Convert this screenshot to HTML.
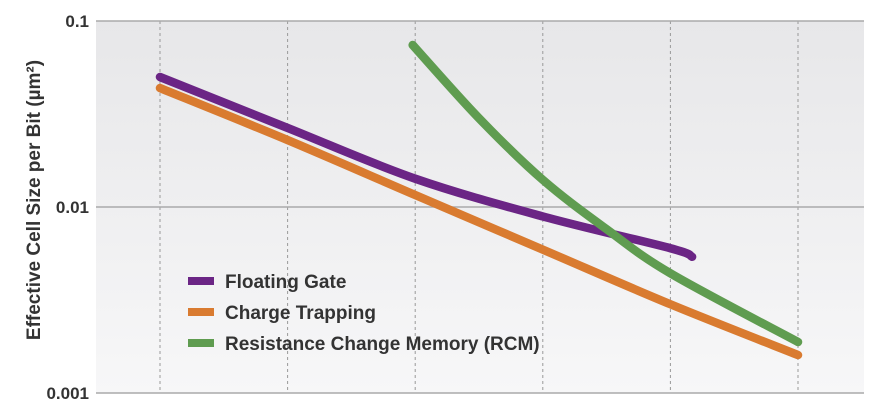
<!DOCTYPE html>
<html><head><meta charset="utf-8"><style>
html,body{margin:0;padding:0;background:#fff;}
svg text{font-family:"Liberation Sans",Arial,sans-serif;font-weight:bold;fill:#333;}
</style></head><body>
<svg id="chart" width="879" height="400" viewBox="0 0 879 400" xmlns="http://www.w3.org/2000/svg">
<defs><linearGradient id="bg" x1="0" y1="0" x2="0" y2="1"><stop offset="0" stop-color="#e7e7e9"/><stop offset="1" stop-color="#f7f7f8"/></linearGradient></defs>
<rect x="96" y="21" width="768" height="372" fill="url(#bg)"/>
<g id="grid"></g>
<g id="series"></g>
<text transform="translate(40,200) rotate(-90)" text-anchor="middle" font-size="19">Effective Cell Size per Bit (µm²)</text>
<g id="legend"></g>
</svg>
<script>
const xCats=[0,1,2,3,4,5];
const yTicks=[0.1,0.01,0.001];
const yTickLabels=["0.1","0.01","0.001"];
const fgX=[0,1,2,3,4,4.17];
const fgY=[0.050,0.0266,0.0142,0.0089,0.0060,0.0054];
const ctX=[0,1,2,3,4,5];
const ctY=[0.0436,0.0229,0.0116,0.0059,0.0030,0.0016];
const rcmX=[1.98,2.5,3,3.5,4,5];
const rcmY=[0.0743,0.0300,0.0140,0.0076,0.0044,0.00188];
const seriesNames=["Floating Gate","Charge Trapping","Resistance Change Memory (RCM)"];
const colors=["#6b2585","#d97b30","#5f9c50"];
const NS="http://www.w3.org/2000/svg";
const xs=i=>160+i*127.6;
const ys=v=>21+(-1-Math.log10(v))*186;
const grid=document.getElementById('grid');
xCats.forEach(c=>{const l=document.createElementNS(NS,'line');


l.setAttribute('x1',xs(c));l.setAttribute('x2',xs(c));l.setAttribute('y1',21);l.setAttribute('y2',393);
l.setAttribute('stroke','#999');l.setAttribute('stroke-dasharray','3,3');l.setAttribute('stroke-width','1');grid.appendChild(l);});
yTicks.forEach((t,i)=>{const l=document.createElementNS(NS,'line');


l.setAttribute('x1',96);l.setAttribute('x2',864);l.setAttribute('y1',ys(t));l.setAttribute('y2',ys(t));
l.setAttribute('stroke','#aaa');l.setAttribute('stroke-width','1.5');grid.appendChild(l);
const tx=document.createElementNS(NS,'text');


tx.setAttribute('x',89);tx.setAttribute('y',ys(t)+6);tx.setAttribute('text-anchor','end');tx.setAttribute('font-size','17');
tx.textContent=yTickLabels[i];grid.appendChild(tx);});
function pathFor(X,Y){const p=X.map((x,i)=>[xs(x),ys(Y[i])]);let d='M'+p[0][0]+','+p[0][1];
for(let i=0;i<p.length-1;i++){const p0=p[i-1]||p[i],p1=p[i],p2=p[i+1],p3=p[i+2]||p2;
d+=' C'+(p1[0]+(p2[0]-p0[0])/6)+','+(p1[1]+(p2[1]-p0[1])/6)+' '+(p2[0]-(p3[0]-p1[0])/6)+','+(p2[1]-(p3[1]-p1[1])/6)+' '+p2[0]+','+p2[1];}
return d;}
const ser=document.getElementById('series');
[[fgX,fgY,'floating-gate-line'],[ctX,ctY,'charge-trapping-line'],[rcmX,rcmY,'rcm-line']].forEach((s,i)=>{
const p=document.createElementNS(NS,'path');


p.setAttribute('d',pathFor(s[0],s[1]));p.setAttribute('fill','none');p.setAttribute('stroke',colors[i]);
p.setAttribute('stroke-width','8.5');p.setAttribute('stroke-linecap','round');ser.appendChild(p);});
const leg=document.getElementById('legend');
seriesNames.forEach((n,i)=>{const y=281+i*31;
const r=document.createElementNS(NS,'rect');


r.setAttribute('x',188);r.setAttribute('y',y-4);r.setAttribute('width',26);r.setAttribute('height',8);r.setAttribute('fill',colors[i]);leg.appendChild(r);
const t=document.createElementNS(NS,'text');


t.setAttribute('x',225);t.setAttribute('y',y+7);t.setAttribute('font-size','19');t.textContent=n;leg.appendChild(t);});
</script>
</body></html>
